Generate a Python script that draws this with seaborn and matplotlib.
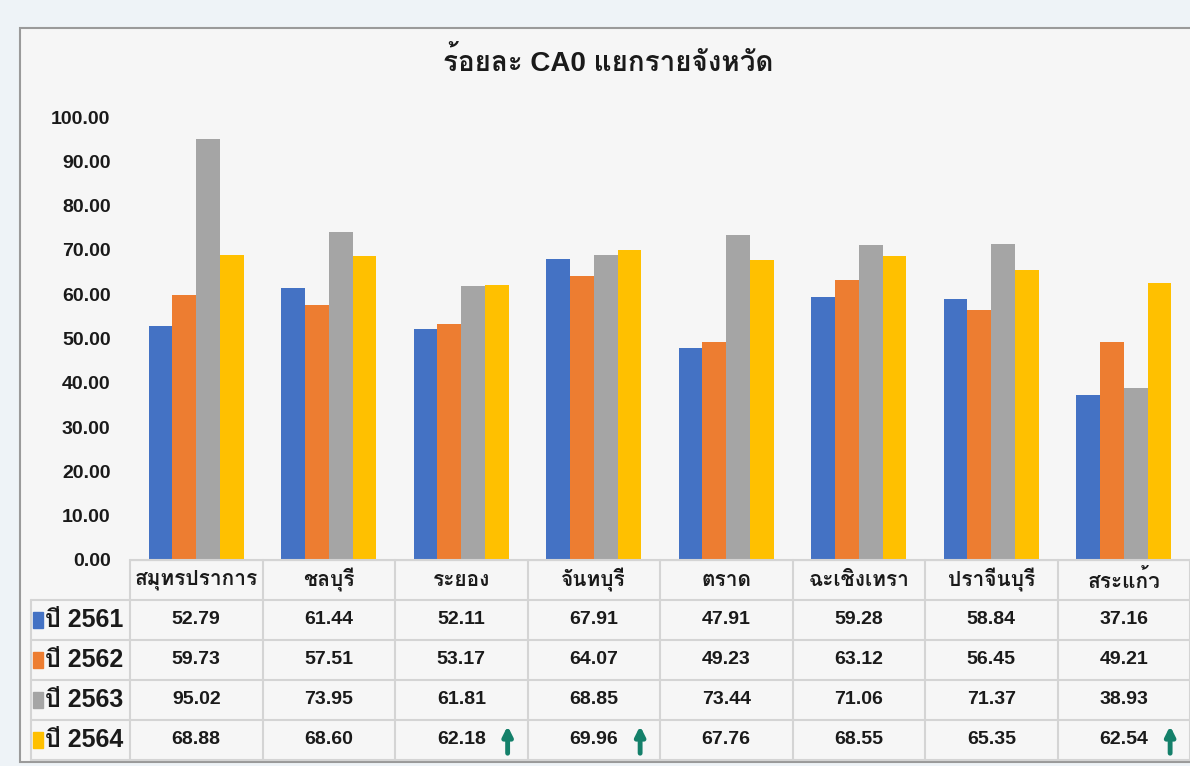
import pandas as pd
import matplotlib
matplotlib.use('Agg')
import matplotlib.pyplot as plt
import seaborn as sns
from matplotlib import font_manager
from matplotlib.ft2font import FT2Font
from matplotlib.patches import Rectangle

# Data
provinces = ['สมุทรปราการ', 'ชลบุรี', 'ระยอง', 'จันทบุรี', 'ตราด', 'ฉะเชิงเทรา', 'ปราจีนบุรี', 'สระแก้ว']
years = ['ปี 2561', 'ปี 2562', 'ปี 2563', 'ปี 2564']
y2561 = [52.79, 61.44, 52.11, 67.91, 47.91, 59.28, 58.84, 37.16]
y2562 = [59.73, 57.51, 53.17, 64.07, 49.23, 63.12, 56.45, 49.21]
y2563 = [95.02, 73.95, 61.81, 68.85, 73.44, 71.06, 71.37, 38.93]
y2564 = [68.88, 68.60, 62.18, 69.96, 67.76, 68.55, 65.35, 62.54]
rising = ['ระยอง', 'จันทบุรี', 'สระแก้ว']  # green up arrows in the 2564 row
colors = ['#4472c4', '#ed7d31', '#a5a5a5', '#ffc000']

df = pd.DataFrame({
    'Province': provinces * 4,
    'Year': sum([[y] * len(provinces) for y in years], []),
    'Value': y2561 + y2562 + y2563 + y2564,
})


def find_thai_font():
    # look for any installed face that has Thai glyphs
    for f in font_manager.fontManager.ttflist:
        try:
            if FT2Font(f.fname).get_char_index(ord('ร')):
                return f.name
        except Exception:
            pass
    return None


sns.set_style('white')
thai = find_thai_font()
installed = {f.name for f in font_manager.fontManager.ttflist}
latin = 'Liberation Sans Narrow' if 'Liberation Sans Narrow' in installed else 'Liberation Sans'
families = [latin]
if thai:
    families.append(thai)
families.append('DejaVu Sans')
plt.rcParams['font.family'] = families
plt.rcParams['text.color'] = '#1a1a1a'

W, H = 1190, 766
fig = plt.figure(figsize=(W / 100, H / 100), dpi=100)
fig.patch.set_facecolor('#eef3f7')
fig.patches.append(Rectangle((20 / W, 4 / H), 1, (H - 32) / H, transform=fig.transFigure,
                             facecolor='#f6f6f6', edgecolor='#9a9a9a', lw=1.5, zorder=-5))

ax = fig.add_axes([130 / W, (H - 560) / H, (W - 130) / W, (560 - 117) / H])
ax.set_facecolor('#f6f6f6')
sns.barplot(data=df, x='Province', y='Value', hue='Year', palette=colors,
            width=0.72, saturation=1, gap=0, linewidth=0, ax=ax, legend=False)
ax.set_xlim(-0.5, 7.5)
ax.set_ylim(0, 100)
ax.set_yticks(range(0, 101, 10))
ax.set_yticklabels([f'{v:.2f}' for v in range(0, 101, 10)], fontsize=14, fontweight='bold')
ax.tick_params(axis='y', length=0, pad=14, labelcolor='#1a1a1a')
ax.set_xticks([])
ax.set_xlabel('')
ax.set_ylabel('')
for s in ['top', 'right', 'left']:
    ax.spines[s].set_visible(False)
ax.spines['bottom'].set_color('#d0d0d0')

fig.text(608 / W, 1 - 62 / H, 'ร้อยละ CA0 แยกรายจังหวัด', ha='center', va='center',
         fontsize=20, fontweight='bold')

# data table under the bars, sharing the category positions
tab = fig.add_axes([130 / W, 6 / H, (W - 130) / W, 200 / H])
tab.set_xlim(-0.5, 7.5)
tab.set_ylim(5, 0)
tab.axis('off')
line = dict(color='#d4d4d4', lw=1.5, clip_on=False)
for r in range(0, 6):
    x0 = -0.5 if r == 0 else -1.25
    tab.plot([x0, 7.5], [r, r], **line)
for c in range(9):
    tab.plot([c - 0.5, c - 0.5], [0, 5], **line)
tab.plot([-1.25, -1.25], [1, 5], **line)

for i, p in enumerate(provinces):
    tab.text(i, 0.5, p, ha='center', va='center', fontsize=15, fontweight='bold')
for r, (yr, vals, col) in enumerate(zip(years, [y2561, y2562, y2563, y2564], colors), start=1):
    tab.add_patch(Rectangle((-1.235, r + 0.3), 0.08, 0.4, color=col, clip_on=False))
    tab.text(-1.14, r + 0.5, yr, ha='left', va='center', fontsize=18, fontweight='bold')
    for i, v in enumerate(vals):
        tab.text(i, r + 0.5, f'{v:.2f}', ha='center', va='center', fontsize=14, fontweight='bold')

for p in rising:
    i = provinces.index(p)
    tab.annotate('', xy=(i + 0.35, 4.08), xytext=(i + 0.35, 4.9),
                 arrowprops=dict(arrowstyle='-|>', color='#14806a', lw=3.5, mutation_scale=14))

fig.savefig('out.png', dpi=100, facecolor=fig.get_facecolor())
